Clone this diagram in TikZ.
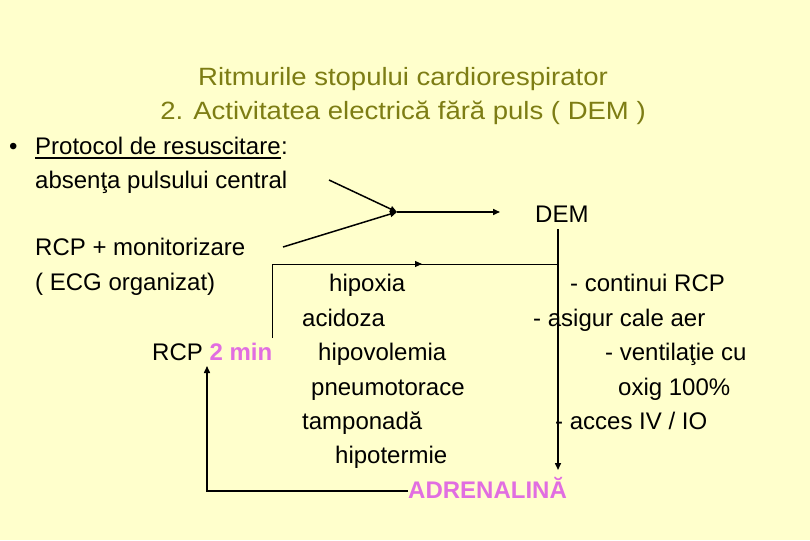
\documentclass[tikz,border=0pt]{standalone}
\usepackage{fontspec}
\setmainfont{Liberation Sans}
\usetikzlibrary{arrows.meta}
\definecolor{bgc}{RGB}{255,255,204}
\definecolor{titlec}{RGB}{125,125,20}
\definecolor{pinkc}{RGB}{225,110,225}
\begin{document}
\begin{tikzpicture}[x=1pt,y={(0pt,-1pt)},
  txt/.style={anchor=base west,inner sep=0pt,font=\fontsize{24}{28}\selectfont},
  ttl/.style={anchor=base,inner sep=0pt,font=\fontsize{25}{28}\selectfont,text=titlec},
  arr/.style={line width=1.5pt,-{Triangle[length=7pt,width=6pt]}},
  thinline/.style={line width=1pt}]
\fill[bgc] (0,0) rectangle (810,540);
\useasboundingbox (0,0) rectangle (810,540);
% title
\node[ttl] (t1) at (403,86) {\scalebox{1.1}[1]{Ritmurile stopului cardiorespirator}};
\node[ttl] (t2) at (403,120) {\scalebox{1.1}[1]{2. Activitatea electrică fără puls ( DEM )}};
% left column
\node[txt] (bul) at (9,155) {•};
\node[txt] (prot) at (35,155) {Protocol de resuscitare};
\node[txt,anchor=base west] (col) at (prot.base east) {:};
\draw[line width=1.3pt] ([yshift=-3pt]prot.base west) -- ([yshift=-3pt]prot.base east);
\node[txt] (abs) at (35,188) {absenţa pulsului central};
\node[txt] (rcpm) at (35,255) {RCP + monitorizare};
\node[txt] (ecg) at (35,290) {( ECG organizat)};
\node[txt] (dem) at (535,222) {DEM};
\node[txt] (rcp2) at (152,360) {RCP \textcolor{pinkc}{\textbf{2 min}}};
% causes
\node[txt] (c1) at (329,291) {hipoxia};
\node[txt] (c2) at (302,326) {acidoza};
\node[txt] (c3) at (318,360) {hipovolemia};
\node[txt] (c4) at (311,395) {pneumotorace};
\node[txt] (c5) at (302,429) {tamponadă};
\node[txt] (c6) at (335,463) {hipotermie};
\node[txt,text=pinkc,font=\fontsize{24}{28}\selectfont\bfseries] (adr) at (408,498) {ADRENALINĂ};
% actions
\node[txt] (r1) at (570,291) {- continui RCP};
\node[txt] (r2) at (533,326) {- asigur cale aer};
\node[txt] (r3) at (605,360) {- ventilaţie cu};
\node[txt] (r4) at (618,395) {oxig 100\%};
\node[txt] (r5) at (555,429) {- acces IV / IO};
% connectors
\coordinate (a1) at (329,180);
\coordinate (a2) at (283,247);
\coordinate (j) at (397,212);
\coordinate (e1) at (500,212);
\draw[arr] (a1) -- (j);
\draw[arr] (a2) -- (j);
\draw[arr] (j) -- (e1);
\coordinate (v1) at (558,229);
\coordinate (v2) at (558,470);
\draw[arr] (v1) -- (v2);
\coordinate (p0) at (272,338);
\coordinate (m) at (558,264);
\draw[thinline] (p0) |- (m);
\coordinate (q1) at (322,264);
\coordinate (q2) at (422,264);
\draw[thinline,-{Triangle[length=7pt,width=6pt]}] (q1) -- (q2);
\coordinate (b1) at (408,491);
\coordinate (b2) at (207,366);
\draw[arr] (b1) -| (b2);
\end{tikzpicture}
\end{document}
